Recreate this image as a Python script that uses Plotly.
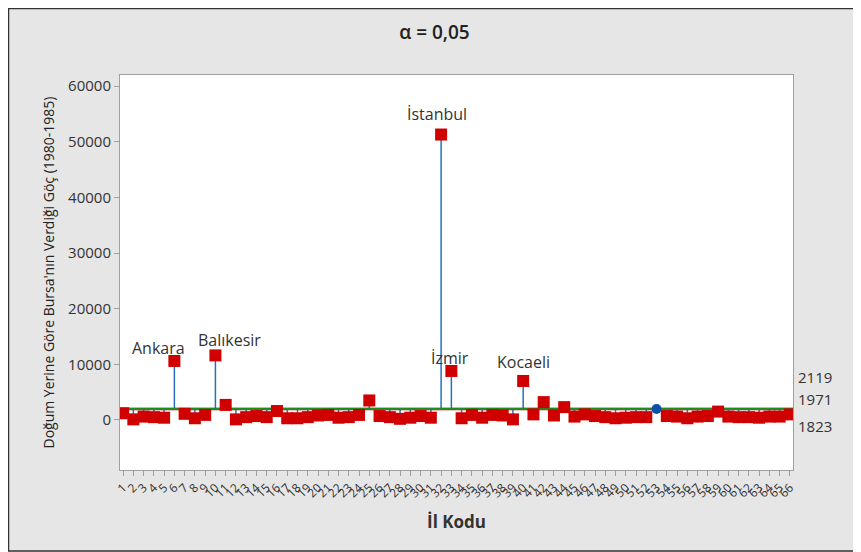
import plotly.graph_objects as go

# ---- data ----
il_kodu = list(range(1, 67))
tick_labels = [str(i) for i in il_kodu]
goc = [1200, 100, 600, 500, 400, 10600, 1100, 300, 900, 11600,
       2700, 100, 500, 700, 500, 1600, 300, 300, 500, 800,
       900, 400, 500, 900, 3500, 700, 500, 200, 400, 700,
       400, 51300, 8800, 300, 900, 400, 900, 800, 100, 7000,
       1000, 3200, 800, 2300, 600, 1000, 700, 500, 300, 400,
       500, 500, 1950, 700, 600, 300, 600, 700, 1500, 600,
       500, 500, 400, 600, 600, 1000]
center = 1971
udl = 2119
ldl = 1823
alpha_title = "α = 0,05"
named = {6: "Ankara", 10: "Balıkesir", 32: "İstanbul", 33: "İzmir", 40: "Kocaeli"}

FONT = "Open Sans"
fig = go.Figure()

# stems
sx, sy = [], []
for x, v in zip(il_kodu, goc):
    sx += [x, x, None]
    sy += [center, v, None]
fig.add_trace(go.Scatter(x=sx, y=sy, mode="lines",
                         line=dict(color="#2a6fbd", width=1.5),
                         hoverinfo="skip", showlegend=False))

# limit lines and center
xr = [il_kodu[0] - 0.3, il_kodu[-1] + 0.3]
fig.add_trace(go.Scatter(x=xr, y=[ldl, ldl], mode="lines",
                         line=dict(color="#b22222", width=1), showlegend=False))
fig.add_trace(go.Scatter(x=xr, y=[udl, udl], mode="lines",
                         line=dict(color="#b22222", width=1), showlegend=False))
fig.add_trace(go.Scatter(x=xr, y=[center, center], mode="lines",
                         line=dict(color="#1e8c1e", width=2), showlegend=False))

out_x = [x for x, v in zip(il_kodu, goc) if v > udl or v < ldl]
out_y = [v for v in goc if v > udl or v < ldl]
in_x = [x for x, v in zip(il_kodu, goc) if ldl <= v <= udl]
in_y = [v for v in goc if ldl <= v <= udl]

fig.add_trace(go.Scatter(x=out_x, y=out_y, mode="markers",
                         marker=dict(symbol="square", size=12, color="#d00000"),
                         showlegend=False))
fig.add_trace(go.Scatter(x=in_x, y=in_y, mode="markers",
                         marker=dict(symbol="circle", size=10, color="#0a4fa8"),
                         showlegend=False))

# point labels
offsets = {6: (-16, 13), 10: (14, 15), 32: (-4, 21), 33: (-1, 13), 40: (0, 19)}
for k, name in named.items():
    dx, dy = offsets[k]
    fig.add_annotation(x=il_kodu[k - 1], y=goc[k - 1], text=name, showarrow=False,
                       xshift=dx, yshift=dy, font=dict(size=16, color="#333333", family=FONT))

# limit labels
for val, sh in [(udl, 31), (center, 10), (ldl, -16)]:
    fig.add_annotation(xref="paper", x=1.0, y=val, text=str(val), showarrow=False,
                       xanchor="left", xshift=3, yshift=sh,
                       font=dict(size=15, color="#333333", family=FONT))

# page body has an 8px margin: size the figure so it fills the window
W, H = 853, 544
L, R, T, B = 112, 68, 67, 82
pw, ph = W - L - R, H - T - B
def px2x(p): return (p - L) / pw
def py2y(p): return (H - B - p) / ph
fig.add_shape(type="rect", xref="paper", yref="paper",
              x0=px2x(0.5), x1=px2x(W - 1), y0=py2y(H - 1), y1=py2y(0.5),
              line=dict(color="#333333", width=1.5), layer="below")

fig.update_layout(
    width=W, height=H,
    margin=dict(l=L, r=R, t=T, b=B),
    paper_bgcolor="#e6e6e6", plot_bgcolor="white",
    font=dict(family=FONT, color="#333333"),
    title=dict(text=alpha_title, x=0.5, xref="container", xanchor="center",
               y=1 - 24 / H, yanchor="middle",
               font=dict(size=19, color="#222222", family=FONT, weight=600)),
    xaxis=dict(tickmode="array", tickvals=il_kodu, ticktext=tick_labels,
               tickangle=-45, tickfont=dict(size=12, color="#333333"),
               range=[il_kodu[0] - 0.3, il_kodu[-1] + 0.3],
               showgrid=False, zeroline=False, showline=True, linecolor="#a0a0a0",
               mirror=True, ticks="outside", ticklen=5, tickcolor="#a0a0a0",
               title=dict(text="<b>İl Kodu</b>", font=dict(size=17, color="#333333"), standoff=15)),
    yaxis=dict(range=[-9000, 62000], tickvals=[0, 10000, 20000, 30000, 40000, 50000, 60000],
               tickformat="d", tickfont=dict(size=15, color="#333333"),
               showgrid=False, zeroline=False, showline=True, linecolor="#a0a0a0",
               mirror=True, ticks="outside", ticklen=5, tickcolor="#a0a0a0",
               title=dict(text="Doğum Yerine Göre Bursa'nın Verdiği Göç (1980-1985)",
                          font=dict(size=14, color="#222222"), standoff=10)),
)

fig.write_html("out.html")
